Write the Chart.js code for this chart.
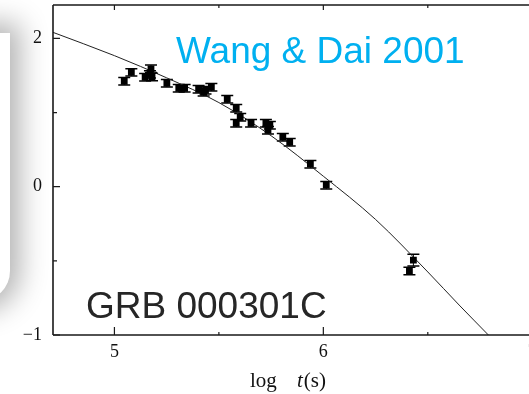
<!DOCTYPE html>
<html>
<head>
<meta charset="utf-8">
<script src="https://cdn.jsdelivr.net/npm/chart.js@4"></script>
<style>
  html, body { margin: 0; padding: 0; width: 529px; height: 394px; overflow: hidden; background: #fff; }
  #card {
    position: absolute; left: -400px; top: 33px; width: 410px; height: 268px;
    background: #fff; border-radius: 0 0 30px 0;
    box-shadow: 0 0 28px 10px rgba(0, 0, 0, 0.3);
  }
  #wrap { position: absolute; left: 0; top: 0; width: 545px; height: 394px; }
</style>
</head>
<body>
<div id="card"></div>
<div id="wrap"><canvas id="afterglow" width="545" height="394"></canvas></div>
<script>
// observed points: log t and flux (y given in axis tick steps)
const logT = [5.047, 5.081, 5.147, 5.170, 5.175, 5.180, 5.251, 5.308, 5.336, 5.403, 5.427, 5.436, 5.464,
  5.540, 5.583, 5.602, 5.583, 5.654, 5.725, 5.744, 5.735, 5.806, 5.839, 5.938, 6.014, 6.431, 6.412];
const flux = [1.421, 1.542, 1.475, 1.515, 1.590, 1.480, 1.394, 1.327, 1.327, 1.313, 1.273, 1.300, 1.340,
  1.178, 1.057, 0.936, 0.855, 0.855, 0.855, 0.828, 0.761, 0.667, 0.599, 0.303, 0.020, -0.990, -1.138];
const fluxErr = [0.05, 0.05, 0.05, 0.05, 0.05, 0.05, 0.05, 0.05, 0.05, 0.05, 0.05, 0.05, 0.05,
  0.05, 0.05, 0.05, 0.05, 0.05, 0.05, 0.05, 0.05, 0.05, 0.05, 0.05, 0.05, 0.08, 0.05];

// model light curve
const modelT = [4.706, 5.0, 5.25, 5.5, 5.75, 6.0, 6.25, 6.5, 6.65, 6.79];
const modelF = [2.081, 1.767, 1.468, 1.134, 0.687, 0.141, -0.442, -1.150, -1.596, -2.0];

const xTickValues = [5, 5.5, 6, 6.5, 7];
const xTickLabels = ['5', '', '6', '', '7'];
const yTickValues = [-2, -1, 0, 1, 2];
const yTickLabels = ['\u22121', '', '0', '', '2'];

const serif = '"Liberation Serif", "DejaVu Serif", serif';

const framePlugin = {
  id: 'frame',
  beforeDatasetsDraw(chart) {
    const { ctx, scales: { x, y } } = chart;
    ctx.save();
    // error bars under the squares
    ctx.strokeStyle = '#000';
    logT.forEach((t, i) => {
      const px = x.getPixelForValue(t);
      const top = y.getPixelForValue(flux[i] + fluxErr[i]);
      const bot = y.getPixelForValue(flux[i] - fluxErr[i]);
      ctx.lineWidth = 1;
      ctx.beginPath();
      ctx.moveTo(px, top); ctx.lineTo(px, bot);
      ctx.stroke();
      ctx.lineWidth = 1.5;
      ctx.beginPath();
      ctx.moveTo(px - 6, top); ctx.lineTo(px + 6, top);
      ctx.moveTo(px - 6, bot); ctx.lineTo(px + 6, bot);
      ctx.stroke();
    });
    ctx.restore();
  },
  afterDraw(chart) {
    const { ctx, chartArea: a, scales: { x, y } } = chart;
    ctx.save();
    ctx.strokeStyle = '#1a1a1a';
    ctx.lineWidth = 1.6;
    ctx.beginPath();
    ctx.moveTo(a.left, a.top); ctx.lineTo(a.right, a.top);
    ctx.moveTo(a.left, a.top); ctx.lineTo(a.left, a.bottom);
    ctx.moveTo(a.left, a.bottom); ctx.lineTo(a.right, a.bottom);
    ctx.stroke();

    // inward ticks
    ctx.lineWidth = 1.2;
    ctx.beginPath();
    xTickValues.forEach((v, i) => {
      const px = x.getPixelForValue(v);
      const major = xTickLabels[i] !== '';
      ctx.moveTo(px, a.bottom); ctx.lineTo(px, a.bottom - (major ? 8 : 3));
      ctx.moveTo(px, a.top); ctx.lineTo(px, a.top + (major ? 5 : 3));
    });
    yTickValues.forEach((v, i) => {
      const py = y.getPixelForValue(v);
      const major = yTickLabels[i] !== '';
      ctx.moveTo(a.left, py); ctx.lineTo(a.left + (major ? 7 : 4), py);
    });
    ctx.stroke();

    // axis title: log t(s)
    ctx.fillStyle = '#111';
    ctx.textBaseline = 'alphabetic';
    ctx.font = '21px ' + serif;
    ctx.fillText('log', 250, 387);
    ctx.font = 'italic 21px ' + serif;
    ctx.fillText('t', 297, 387);
    const tw = ctx.measureText('t').width;
    ctx.font = '21px ' + serif;
    ctx.fillText('(s)', 297 + tw + 1, 387);

    // slide captions
    ctx.font = '37px "Liberation Sans", Arial, sans-serif';
    ctx.fillStyle = '#00B0F0';
    ctx.fillText('Wang & Dai 2001', 176, 63);
    ctx.fillStyle = '#262626';
    ctx.fillText('GRB 000301C', 86, 318);
    ctx.restore();
  }
};

const ctx = document.getElementById('afterglow').getContext('2d');
new Chart(ctx, {
  type: 'scatter',
  data: {
    datasets: [
      {
        type: 'line',
        data: modelT.map((t, i) => ({ x: t, y: modelF[i] })),
        borderColor: '#222',
        borderWidth: 1,
        pointRadius: 0,
        cubicInterpolationMode: 'monotone',
        fill: false,
        order: 2
      },
      {
        data: logT.map((t, i) => ({ x: t, y: flux[i] })),
        pointStyle: 'rect',
        pointRadius: 4.8,
        backgroundColor: '#000',
        borderWidth: 0,
        order: 1
      }
    ]
  },
  options: {
    responsive: false,
    animation: false,
    layout: { padding: { top: 5, left: 0, right: 0, bottom: 0 } },
    plugins: { legend: { display: false }, tooltip: { enabled: false } },
    scales: {
      x: {
        type: 'linear',
        min: 4.706,
        max: 7.038,
        grid: { display: false, drawTicks: false },
        border: { display: false },
        afterBuildTicks: s => { s.ticks = xTickValues.map(v => ({ value: v })); },
        afterFit: s => { s.height = 59; s.paddingLeft = 0; s.paddingRight = 0; },
        ticks: {
          padding: 6,
          autoSkip: false,
          maxRotation: 0,
          color: '#111',
          font: { family: serif, size: 18 },
          callback: (v, i) => xTickLabels[i]
        }
      },
      y: {
        min: -2,
        max: 2.45,
        grid: { display: false, drawTicks: false },
        border: { display: false },
        afterBuildTicks: s => { s.ticks = yTickValues.map(v => ({ value: v })); },
        afterFit: s => { s.width = 53; s.paddingTop = 0; s.paddingBottom = 0; },
        ticks: {
          padding: 11,
          autoSkip: false,
          color: '#111',
          font: { family: serif, size: 18 },
          callback: (v, i) => yTickLabels[i]
        }
      }
    }
  },
  plugins: [framePlugin]
});
</script>
</body>
</html>
